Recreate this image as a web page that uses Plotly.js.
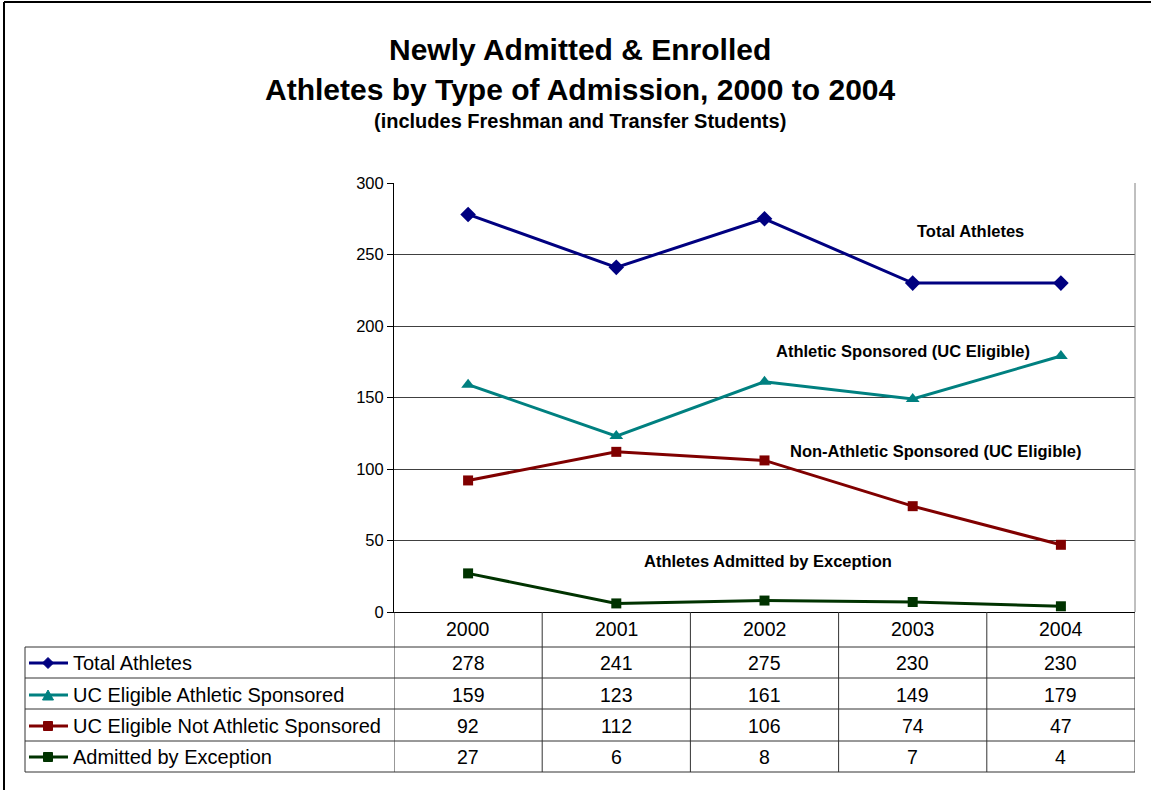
<!DOCTYPE html>
<html><head><meta charset="utf-8">
<script src="https://cdn.plot.ly/plotly-3.0.1.min.js"></script>
<style>html,body{margin:0;padding:0;background:#fff}#chart{width:1151px;height:790px}</style>
</head><body><div id="chart"></div>
<script>
const years = ['2000','2001','2002','2003','2004'];
const seriesNames = ['Total Athletes','UC Eligible Athletic Sponsored','UC Eligible Not Athletic Sponsored','Admitted by Exception'];
const totalAthletes = [278,241,275,230,230];
const athleticSponsored = [159,123,161,149,179];
const notAthleticSponsored = [92,112,106,74,47];
const admittedByException = [27,6,8,7,4];
const seriesValues = [totalAthletes, athleticSponsored, notAthleticSponsored, admittedByException];
const seriesColors = ['#000080','#008080','#800000','#003300'];
const seriesSymbols = ['diamond','triangle-up','square','square'];
const seriesSizes = [12,12,10,10];
const chartLabels = ['Total Athletes','Athletic Sponsored (UC Eligible)','Non-Athletic Sponsored (UC Eligible)','Athletes Admitted by Exception'];
const titleLines = ['Newly Admitted & Enrolled','Athletes by Type of Admission, 2000 to 2004','(includes Freshman and Transfer Students)'];

const W=1151,H=790, L=394, R=1135, T=183, B=612;
const px = x => (x-L)/(R-L);
const py = y => (B-y)/(B-T);
const FONT='Arial';
const TBL='#333333';

const traces = seriesValues.map((vals,i)=>({
  x: years.map((_,j)=>j), y: vals, type:'scatter', mode:'lines+markers', name: seriesNames[i],
  line:{color:seriesColors[i], width:3},
  marker:{symbol:seriesSymbols[i], size:seriesSizes[i], color:seriesColors[i]},
  cliponaxis:false, showlegend:false, hoverinfo:'skip'
}));

const shapes=[], annotations=[];
shapes.push({type:'line',xref:'paper',yref:'paper',x0:px(4),x1:px(W),y0:py(2),y1:py(2),line:{color:'#000',width:2}});
shapes.push({type:'line',xref:'paper',yref:'paper',x0:px(4),x1:px(4),y0:py(2),y1:py(H),line:{color:'#000',width:2}});
shapes.push({type:'line',xref:'paper',yref:'paper',x0:1,x1:1,y0:0,y1:1,line:{color:'#808080',width:1}});

const rowLines=[647,678,709,741,772];
rowLines.forEach(y=>shapes.push({type:'line',xref:'paper',yref:'paper',x0:px(25),x1:1,y0:py(y),y1:py(y),line:{color:TBL,width:1}}));
shapes.push({type:'line',xref:'paper',yref:'paper',x0:px(25),x1:px(25),y0:py(647),y1:py(772),line:{color:TBL,width:1}});
for(let j=0;j<=years.length;j++){
  shapes.push({type:'line',xref:'x',yref:'paper',x0:j-0.5,x1:j-0.5,y0:0,y1:py(772),line:{color:TBL,width:1}});
}
const headerY=629, rowY=[663,695,726,757];
years.forEach((yr,j)=>annotations.push({xref:'x',yref:'paper',x:j,y:py(headerY),text:yr,showarrow:false,font:{family:FONT,size:19.5,color:'#000'},xanchor:'center',yanchor:'middle'}));
seriesValues.forEach((vals,i)=>{
  vals.forEach((v,j)=>annotations.push({xref:'x',yref:'paper',x:j,y:py(rowY[i]),text:String(v),showarrow:false,font:{family:FONT,size:19.5,color:'#000'},xanchor:'center',yanchor:'middle'}));
  annotations.push({xref:'paper',yref:'paper',x:px(71),y:py(rowY[i]),text:seriesNames[i],showarrow:false,font:{family:FONT,size:20,color:'#000'},xanchor:'left',yanchor:'middle'});
  shapes.push({type:'line',xref:'paper',yref:'paper',x0:px(29),x1:px(68),y0:py(rowY[i]),y1:py(rowY[i]),line:{color:seriesColors[i],width:3}});
  let path;
  if(seriesSymbols[i]==='diamond') path='M0,-5.5 L5.5,0 L0,5.5 L-5.5,0 Z';
  else if(seriesSymbols[i]==='triangle-up') path='M0,5 L5.5,-5 L-5.5,-5 Z';
  else path='M-4.5,-4.5 L4.5,-4.5 L4.5,4.5 L-4.5,4.5 Z';
  shapes.push({type:'path',xref:'paper',yref:'paper',xsizemode:'pixel',ysizemode:'pixel',xanchor:px(48),yanchor:py(rowY[i]),path:path,fillcolor:seriesColors[i],line:{color:seriesColors[i],width:1}});
});

const labelPos=[[970,231],[903,351],[936,451],[768,561]];
chartLabels.forEach((t,i)=>annotations.push({xref:'paper',yref:'paper',x:px(labelPos[i][0]),y:py(labelPos[i][1]),text:'<b>'+t+'</b>',showarrow:false,font:{family:FONT,size:16.5,color:'#000'},xanchor:'center',yanchor:'middle'}));

annotations.push({xref:'paper',yref:'paper',x:px(580),y:py(50),text:'<b>'+titleLines[0]+'</b>',showarrow:false,font:{family:FONT,size:30,color:'#000'},xanchor:'center',yanchor:'middle'});
annotations.push({xref:'paper',yref:'paper',x:px(580),y:py(89),text:'<b>'+titleLines[1]+'</b>',showarrow:false,font:{family:FONT,size:30,color:'#000'},xanchor:'center',yanchor:'middle'});
annotations.push({xref:'paper',yref:'paper',x:px(580),y:py(121),text:'<b>'+titleLines[2]+'</b>',showarrow:false,font:{family:FONT,size:20,color:'#000'},xanchor:'center',yanchor:'middle'});

const layout={
  width:W,height:H,margin:{l:L,r:W-R,t:T,b:H-B,pad:0},
  paper_bgcolor:'#fff',plot_bgcolor:'#fff',showlegend:false,hovermode:false,
  font:{family:FONT,color:'#000'},
  xaxis:{range:[-0.5,years.length-0.5],showticklabels:false,showgrid:false,zeroline:false,showline:true,linecolor:'#000',linewidth:1,ticks:'',fixedrange:true},
  yaxis:{range:[0,300],tickvals:[0,50,100,150,200,250,300],ticks:'outside',ticklen:6,tickcolor:'#000',showgrid:true,gridcolor:'#404040',gridwidth:1,zeroline:false,showline:true,linecolor:'#000',linewidth:1,tickfont:{family:FONT,size:16.5,color:'#000'},fixedrange:true},
  shapes:shapes,annotations:annotations
};
Plotly.newPlot('chart',traces,layout,{staticPlot:true,displayModeBar:false});
</script></body></html>
